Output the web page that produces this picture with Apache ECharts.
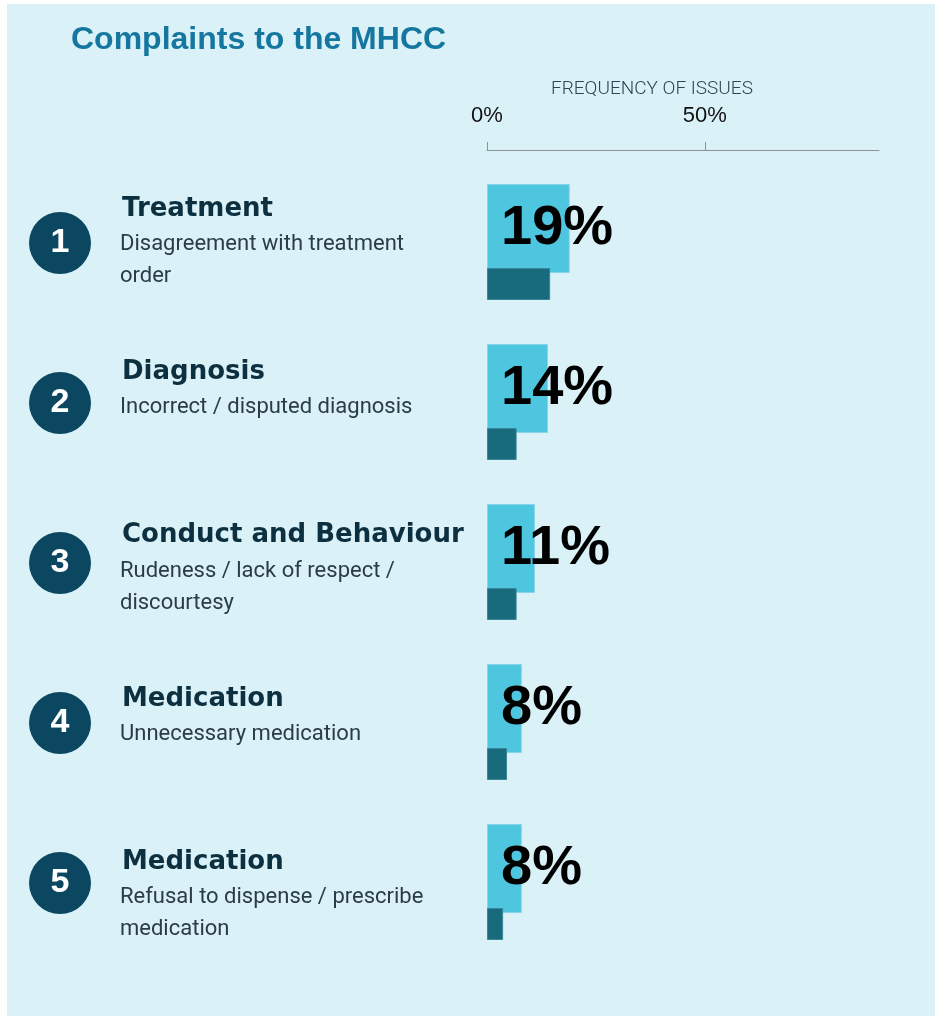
<!DOCTYPE html>
<html>
<head>
<meta charset="utf-8">
<title>Complaints to the MHCC</title>
<script src="https://cdn.jsdelivr.net/npm/echarts@6/dist/echarts.min.js"></script>
<style>
  html, body { margin: 0; padding: 0; background: #fff; }
  #chart {
    width: 935px;
    height: 1016px;
    background: linear-gradient(#dbf1f8, #dbf1f8) 7px 4px / 928px 1012px no-repeat, #fff;
  }
</style>
</head>
<body>
<div id="chart"></div>
<script>
// Ranked complaint issues
const ranks = ['1', '2', '3', '4', '5'];
const issueNames = ['Treatment', 'Diagnosis', 'Conduct and Behaviour', 'Medication', 'Medication'];
const issueDetails = [
  ['Disagreement with treatment', 'order'],
  ['Incorrect / disputed diagnosis'],
  ['Rudeness / lack of respect /', 'discourtesy'],
  ['Unnecessary medication'],
  ['Refusal to dispense / prescribe', 'medication']
];
// Share of issues (%), main bar and the smaller dark bar beneath it
const frequency = [19, 14, 11, 8, 8];
const secondaryShare = [14.5, 6.8, 6.8, 4.6, 3.7];
// Axis tick values (%)
const axisTicks = [0, 50];

const chart = echarts.init(document.getElementById('chart'), null, { renderer: 'canvas' });

// Issue heading plus up to two lines of description
function issueLabel(value, index) {
  const lines = ['{t|' + issueNames[index] + '}'];
  issueDetails[index].forEach(function (d) { lines.push('{d|' + d + '}'); });
  while (lines.length < 3) lines.push('{d| }');
  return lines.join('\n');
}

const hiddenAxis = { show: false };

chart.setOption({
  animation: false,
  backgroundColor: 'transparent',
  title: [
    {
      text: 'Complaints to the MHCC',
      left: 71, top: 24, padding: 0,
      textStyle: { fontFamily: 'Liberation Sans', fontWeight: 'bold', fontSize: 32, color: '#1577a0' }
    },
    {
      text: 'FREQUENCY OF ISSUES',
      left: 551, top: 80, padding: 0,
      textStyle: { fontFamily: 'Roboto', fontWeight: 300, fontSize: 19, color: '#2c4653' }
    }
  ],
  grid: [
    // bars
    { left: 487, right: 56, top: 162, bottom: 54, containLabel: false, outerBoundsMode: 'none' },
    // issue text column
    { left: 487, right: 56, top: 159.4, bottom: 40.35, containLabel: false, outerBoundsMode: 'none' }
  ],
  xAxis: [
    {
      type: 'value',
      gridIndex: 0,
      position: 'top',
      offset: 12,
      min: 0,
      max: 90,
      interval: 50,
      axisLine: { show: true, lineStyle: { color: '#8c9194', width: 1 } },
      axisTick: { show: true, length: 8, customValues: axisTicks, lineStyle: { color: '#8c9194' } },
      axisLabel: {
        customValues: axisTicks,
        formatter: '{value}%',
        fontFamily: 'Liberation Sans', fontSize: 22, color: '#111', margin: 23
      },
      splitLine: { show: false }
    },
    {
      type: 'value',
      gridIndex: 1,
      show: false,
      min: 0,
      max: 90
    }
  ],
  yAxis: [
    {
      type: 'category',
      gridIndex: 0,
      position: 'left',
      data: ranks,
      inverse: true,
      axisLine: hiddenAxis,
      axisTick: hiddenAxis,
      axisLabel: {
        interval: 0,
        align: 'left',
        margin: 458,
        padding: [2, 0, 0, 0],
        formatter: function (v) { return '{c|' + v + '}'; },
        rich: {
          c: {
            width: 62, height: 62, lineHeight: 62, borderRadius: 31,
            backgroundColor: '#0b4760', align: 'center',
            fontFamily: 'Liberation Sans', fontWeight: 'bold', fontSize: 34, color: '#ffffff'
          }
        }
      }
    },
    {
      type: 'category',
      gridIndex: 1,
      position: 'left',
      data: ranks,
      inverse: true,
      axisLine: hiddenAxis,
      axisTick: hiddenAxis,
      axisLabel: {
        interval: 0,
        align: 'left',
        margin: 367,
        formatter: issueLabel,
        rich: {
          t: { fontFamily: 'DejaVu Sans', fontWeight: 'bold', fontSize: 26, color: '#0c3040', lineHeight: 39, padding: [0, 0, 0, 2] },
          d: { fontFamily: 'Roboto', fontSize: 22, color: '#2b3c45', lineHeight: 32 }
        }
      }
    }
  ],
  series: [
    {
      type: 'bar',
      xAxisIndex: 0,
      yAxisIndex: 0,
      data: frequency,
      barWidth: 89,
      barGap: '-5.6%',
      itemStyle: { color: '#4ec6e0', borderColor: '#86d5e8', borderWidth: 1 },
      label: {
        show: true,
        position: 'insideLeft',
        distance: 14,
        formatter: '{c}%',
        fontFamily: 'Liberation Sans', fontWeight: 'bold', fontSize: 56, color: '#000'
      }
    },
    {
      type: 'bar',
      xAxisIndex: 0,
      yAxisIndex: 0,
      data: secondaryShare,
      barWidth: 32,
      barGap: '-5.6%',
      itemStyle: { color: '#176b7d', borderColor: '#3d8596', borderWidth: 1 }
    }
  ]
});
</script>
</body>
</html>
